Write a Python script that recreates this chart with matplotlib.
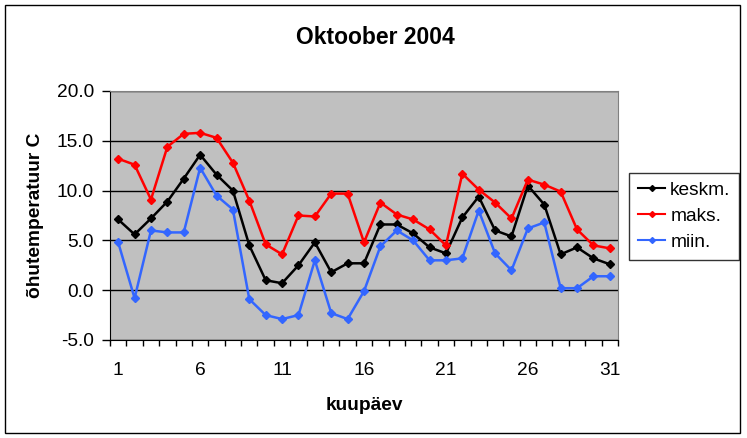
#October 2004 air temperature chart (mean, max, min per day)

import numpy as np
import matplotlib
matplotlib.use("Agg")
import matplotlib.pyplot as plt
from matplotlib.patches import Rectangle

plt.rcParams['font.family'] = ['Liberation Sans', 'DejaVu Sans']

#data
days = list(range(1, 32))
keskm = [7.1, 5.6, 7.2, 8.9, 11.2, 13.6, 11.6, 10.0, 4.5, 1.0, 0.7, 2.5, 4.8, 1.8, 2.7,
         2.7, 6.6, 6.6, 5.7, 4.3, 3.7, 7.3, 9.4, 6.0, 5.4, 10.5, 8.6, 3.6, 4.3, 3.2, 2.6]
maks = [13.2, 12.6, 9.1, 14.4, 15.7, 15.8, 15.3, 12.8, 9.0, 4.6, 3.6, 7.5, 7.4, 9.7, 9.7,
        4.8, 8.8, 7.6, 7.1, 6.1, 4.5, 11.7, 10.1, 8.8, 7.2, 11.1, 10.6, 9.9, 6.1, 4.5, 4.2]
miin = [4.8, -0.8, 6.0, 5.8, 5.8, 12.3, 9.5, 8.1, -0.9, -2.5, -2.9, -2.5, 3.0, -2.3, -2.9,
        -0.1, 4.4, 6.0, 5.0, 3.0, 3.0, 3.2, 8.0, 3.7, 2.0, 6.2, 6.8, 0.2, 0.2, 1.4, 1.4]
yticks = [-5, 0, 5, 10, 15, 20]
xlabels = [1, 6, 11, 16, 21, 26, 31]

W, H = 747, 438
fs = 13.8
fig = plt.figure(figsize=(W / 100, H / 100), dpi=100)
ax = fig.add_axes([110 / W, 1 - 340 / H, 508 / W, 249 / H])
ax.set_facecolor('#C0C0C0')

ax.plot(days, keskm, color='black', lw=1.8, marker='D', ms=4.5, label='keskm.')
ax.plot(days, maks, color='#FF0000', lw=1.8, marker='D', ms=4.5, label='maks.')
ax.plot(days, miin, color='#3366FF', lw=1.8, marker='D', ms=4.5, label='miin.')

ax.set_xlim(0.5, 31.5)
ax.set_ylim(-5, 20)
ax.set_yticks(yticks)
ax.set_yticklabels(['%.1f' % v for v in yticks], fontsize=fs)
ax.yaxis.grid(True, color='black', lw=1)
ax.set_axisbelow(True)
ax.tick_params(axis='y', direction='out', length=5.5, width=1, pad=6)

ax.set_xticks(xlabels)
ax.set_xticklabels([str(d) for d in xlabels], fontsize=fs)
ax.set_xticks(np.arange(0.5, 32, 1), minor=True)
ax.tick_params(axis='x', which='major', length=0, pad=16)
ax.tick_params(axis='x', which='minor', direction='out', length=4.5, width=1)

for s in ['top', 'right']:
    ax.spines[s].set_color('#808080')
for s in ['left', 'bottom']:
    ax.spines[s].set_color('black')

ax.set_xlabel('kuupäev', fontsize=fs, fontweight='bold', labelpad=13)
ax.set_ylabel('õhutemperatuur C', fontsize=fs, fontweight='bold', labelpad=9)
fig.text(375 / W, 1 - 38 / H, 'Oktoober 2004', fontsize=16.5, fontweight='bold',
         ha='center', va='center')

leg = fig.legend(loc='upper left', bbox_to_anchor=(629 / W, 1 - 173 / H),
                 fontsize=fs, frameon=True, fancybox=False, edgecolor='black',
                 borderpad=0.45, labelspacing=0.45, handlelength=1.45, handletextpad=0.25,
                 borderaxespad=0)
leg.get_frame().set_linewidth(1)
for h in leg.legend_handles:
    h.set_markersize(3)
    h.set_linewidth(1.5)

#outer chart border
fig.patches.append(Rectangle((5 / W, 1 - 433 / H), 735 / W, 428 / H, transform=fig.transFigure,
                             fill=False, edgecolor='black', lw=1))

plt.savefig('out.png', dpi=100)
